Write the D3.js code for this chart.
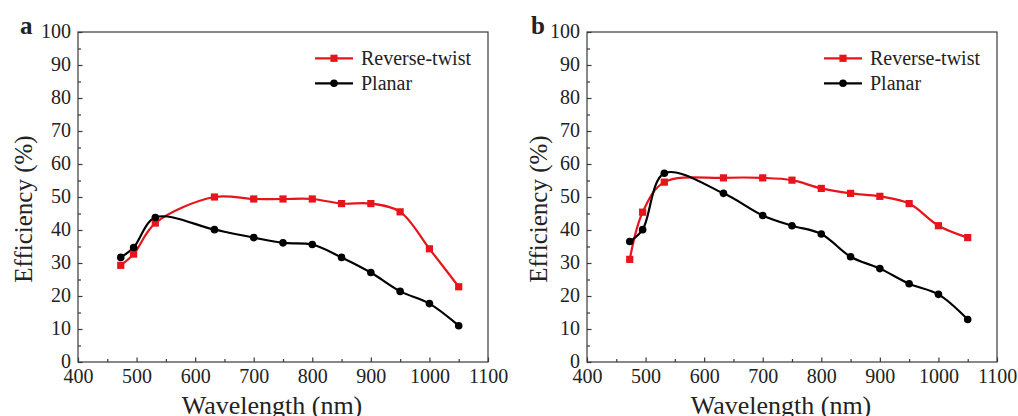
<!DOCTYPE html>
<html>
<head>
<meta charset="utf-8">
<script src="https://cdn.jsdelivr.net/npm/d3@7/dist/d3.min.js"></script>
<style>
  html, body { margin: 0; padding: 0; background: #fff; }
  svg { display: block; }
  text { font-family: "Liberation Serif", "Times New Roman", serif; fill: #222; }
</style>
</head>
<body>
<svg id="chart" width="1018" height="416"></svg>
<script>
// ---- data ----
const wavelengths = [473, 495, 532, 633, 700, 750, 800, 850, 900, 950, 1000, 1050];
const aReverseTwist = [29.3, 32.7, 42.1, 50.0, 49.4, 49.4, 49.4, 48.0, 48.0, 45.5, 34.3, 22.8];
const aPlanar       = [31.7, 34.7, 43.8, 40.1, 37.7, 36.1, 35.6, 31.7, 27.1, 21.4, 17.7, 11.0];
const bReverseTwist = [31.1, 45.4, 54.5, 55.8, 55.8, 55.1, 52.6, 51.1, 50.2, 48.0, 41.3, 37.7];
const bPlanar       = [36.5, 40.1, 57.2, 51.1, 44.4, 41.3, 38.8, 31.9, 28.3, 23.7, 20.5, 12.9];
const xTicks = [400, 500, 600, 700, 800, 900, 1000, 1100];
const yTicks = [0, 10, 20, 30, 40, 50, 60, 70, 80, 90, 100];
const seriesNames = ["Reverse-twist", "Planar"];
const seriesColors = ["#e8141c", "#000000"];
const panelLetters = ["a", "b"];

const svg = d3.select("#chart");

const panels = [
  { letter: panelLetters[0], ox: 0,   titleX: 31.5, data: [aReverseTwist, aPlanar] },
  { letter: panelLetters[1], ox: 509, titleX: 38,   data: [bReverseTwist, bPlanar] }
];

const axisColor = "#3a3a3a";

panels.forEach(p => {
  const left = 78, right = 488, top = 32, bottom = 362;
  const g = svg.append("g").attr("transform", `translate(${p.ox},0)`);

  const x = d3.scaleLinear().domain([400, 1100]).range([left, right]);
  const y = d3.scaleLinear().domain([0, 100]).range([bottom, top]);

  // frame
  g.append("rect")
    .attr("x", left).attr("y", top)
    .attr("width", right - left).attr("height", bottom - top)
    .attr("fill", "none").attr("stroke", axisColor).attr("stroke-width", 1.2);

  // minor ticks
  const xMinor = d3.range(450, 1100, 100);
  const yMinor = d3.range(5, 100, 10);
  const xm = g.append("g").attr("transform", `translate(0,${bottom})`)
    .call(d3.axisBottom(x).tickValues(xMinor).tickSize(-3).tickFormat(""));
  const ym = g.append("g").attr("transform", `translate(${left},0)`)
    .call(d3.axisLeft(y).tickValues(yMinor).tickSize(-3).tickFormat(""));
  [xm, ym].forEach(a => { a.select(".domain").remove(); a.selectAll("line").attr("stroke", axisColor).attr("stroke-width", 1.2); });

  // major axes
  const xa = g.append("g").attr("transform", `translate(0,${bottom})`)
    .call(d3.axisBottom(x).tickValues(xTicks).tickSize(-4.5).tickPadding(7).tickFormat(d3.format("d")));
  const ya = g.append("g").attr("transform", `translate(${left},0)`)
    .call(d3.axisLeft(y).tickValues(yTicks).tickSize(-4.5).tickPadding(7).tickFormat(d3.format("d")));
  [xa, ya].forEach(a => {
    a.select(".domain").remove();
    a.selectAll("line").attr("stroke", axisColor).attr("stroke-width", 1.2);
    a.selectAll("text").attr("font-size", 20).attr("font-family", "Liberation Serif").attr("fill", "#222");
  });
  ya.selectAll("text").attr("dy", "0.25em");

  // axis titles
  g.append("text")
    .attr("x", (left + right) / 2 - 11).attr("y", 414)
    .attr("text-anchor", "middle").attr("font-size", 26)
    .text("Wavelength (nm)");
  g.append("text")
    .attr("transform", `translate(${p.titleX},${(top + bottom) / 2 + 12}) rotate(-90)`)
    .attr("text-anchor", "middle").attr("font-size", 25)
    .text("Efficiency (%)");

  // panel letter
  g.append("text")
    .attr("x", p.ox === 0 ? 20 : 22).attr("y", 34)
    .attr("font-size", 25).attr("font-weight", "bold")
    .text(p.letter);

  // series
  const line = d3.line()
    .x((d, i) => x(wavelengths[i]))
    .y(d => y(d))
    .curve(d3.curveCatmullRom.alpha(0.5));

  // draw planar last? In reference red mostly on top except markers; draw red first then black then red markers
  p.data.forEach((vals, si) => {
    g.append("path").datum(vals)
      .attr("d", line)
      .attr("fill", "none")
      .attr("stroke", seriesColors[si])
      .attr("stroke-width", 2.2);
  });
  p.data.forEach((vals, si) => {
    if (si === 0) {
      g.selectAll(null).data(vals).enter().append("rect")
        .attr("x", (d, i) => x(wavelengths[i]) - 3.6)
        .attr("y", d => y(d) - 3.6)
        .attr("width", 7.2).attr("height", 7.2)
        .attr("fill", seriesColors[si]);
    } else {
      g.selectAll(null).data(vals).enter().append("circle")
        .attr("cx", (d, i) => x(wavelengths[i]))
        .attr("cy", d => y(d))
        .attr("r", 3.8)
        .attr("fill", seriesColors[si]);
    }
  });

  // legend
  const legY = [58.3, 83.3];
  seriesNames.forEach((name, si) => {
    g.append("line")
      .attr("x1", 315).attr("x2", 353)
      .attr("y1", legY[si]).attr("y2", legY[si])
      .attr("stroke", seriesColors[si]).attr("stroke-width", 2.2);
    if (si === 0) {
      g.append("rect").attr("x", 334 - 3.6).attr("y", legY[si] - 3.6)
        .attr("width", 7.2).attr("height", 7.2).attr("fill", seriesColors[si]);
    } else {
      g.append("circle").attr("cx", 334).attr("cy", legY[si]).attr("r", 3.8).attr("fill", seriesColors[si]);
    }
    g.append("text")
      .attr("x", 361).attr("y", legY[si] + 6.8)
      .attr("font-size", 20)
      .text(name);
  });
});
</script>
</body>
</html>
